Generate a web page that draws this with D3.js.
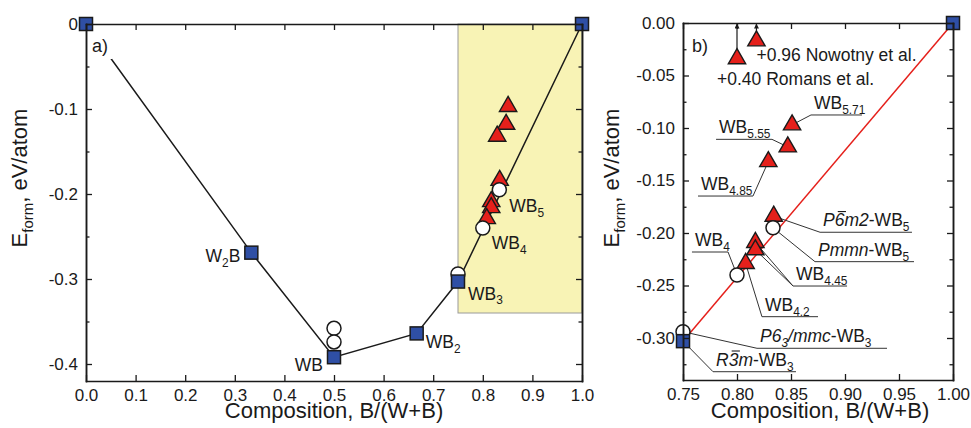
<!DOCTYPE html>
<html>
<head>
  <meta charset="utf-8">
  <title>W-B formation energies</title>
  <script src="https://cdn.jsdelivr.net/npm/d3@7"></script>
  <style>
    body { margin: 0; background: #fff; }
    svg { font-family: "Liberation Sans", Arial, sans-serif; }
  </style>
</head>
<body>
<script>
// convex hull phases (blue squares)
var hullX = [0, 1/3, 0.5, 2/3, 0.75, 1];
var hullE = [0, -0.269, -0.392, -0.364, -0.303, 0];
// other computed structures (open circles)
var circX = [0.5, 0.5, 0.75, 0.8, 5/6];
var circE = [-0.358, -0.374, -0.294, -0.240, -0.195];
// higher borides (red triangles)
var triX = [0.851, 0.847, 0.829, 0.834, 0.817, 0.817, 0.808];
var triE = [-0.097, -0.118, -0.132, -0.184, -0.209, -0.216, -0.229];
// experimental structures, drawn shifted down (panel b only)
var shiftX = [0.800, 0.818];
var shiftE = [-0.034, -0.017];
var shiftNotes = ["+0.40 Romans et al.", "+0.96 Nowotny et al."];

// names: _{..} subscript, *..* italic, ^ overbar on next char
var hullNamesA = ["", "W_{2}B", "WB", "WB_{2}", "WB_{3}", ""];
var circNamesA = ["", "", "", "WB_{4}", "WB_{5}"];
var hullNamesB = ["", "", "", "", "*R^3m*-WB_{3}", ""];
var circNamesB = ["", "", "*P6_{3}/mmc*-WB_{3}", "WB_{4}", "*Pmmn*-WB_{5}"];
var triNamesB = ["WB_{5.71}", "WB_{5.55}", "WB_{4.85}", "*P^6m2*-WB_{5}", "WB_{4.45}", "WB_{4.45}", "WB_{4.2}"];

// ticks
var xTicksA = [0, 0.1, 0.2, 0.3, 0.4, 0.5, 0.6, 0.7, 0.8, 0.9, 1.0];
var yTicksA = [0, -0.1, -0.2, -0.3, -0.4];
var yMinorA = [-0.05, -0.15, -0.25, -0.35];
var xTicksB = [0.75, 0.80, 0.85, 0.90, 0.95, 1.00];
var yTicksB = [0, -0.05, -0.10, -0.15, -0.20, -0.25, -0.30];
var yMinorB = [-0.025, -0.075, -0.125, -0.175, -0.225, -0.275, -0.325];

var width = 971, height = 428;
var ink = '#1a1a1a', blue = '#2f4fa5', red = '#e5201b';

var svg = d3.select('body').append('svg')
  .attr('width', width)
  .attr('height', height);

var defs = svg.append('defs');
defs.append('marker')
  .attr('id', 'arrow')
  .attr('markerUnits', 'userSpaceOnUse')
  .attr('viewBox', '0 0 10 10')
  .attr('refX', 10).attr('refY', 5)
  .attr('markerWidth', 6).attr('markerHeight', 5)
  .attr('orient', 'auto')
  .append('path').attr('d', 'M0,0L10,5L0,10z').attr('fill', ink);

// scales
var xa = d3.scaleLinear().domain([0, 1]).range([86, 582]);
var ya = d3.scaleLinear().domain([0, -0.42]).range([24, 381]);
var xb = d3.scaleLinear().domain([0.75, 1]).range([683, 953]);
var yb = d3.scaleLinear().domain([0, -0.34]).range([23, 380]);

function hyphen(f) {
  return function (v) { return v === 0 && f === null ? '0' : d3.format(f || '.1f')(v).replace('\u2212', '-'); };
}

// little markup parser for chemical labels
function parts(str) {
  var out = [], it = false, i = 0;
  while (i < str.length) {
    var c = str[i];
    if (c === '*') { it = !it; i++; continue; }
    if (c === '_') {
      var j = str.indexOf('}', i);
      out.push({t: str.slice(i + 2, j), it: it, sub: true});
      i = j + 1; continue;
    }
    if (c === '^') { out.push({t: str[i + 1], it: it, bar: true}); i += 2; continue; }
    out.push({t: c, it: it});
    i++;
  }
  return out;
}

function rich(g, str, x, y, size, anchor, transform) {
  var t = g.append('text')
    .attr('x', x).attr('y', y)
    .attr('font-size', size)
    .attr('fill', ink)
    .attr('text-anchor', anchor || 'start');
  if (transform) t.attr('transform', transform);
  var shift = 0, idx = 0, bars = [];
  parts(str).forEach(function (p) {
    var s = t.append('tspan').text(p.t);
    var want = p.sub ? size * 0.28 : 0;
    if (want !== shift) { s.attr('dy', want - shift); shift = want; }
    if (p.sub) s.attr('font-size', size * 0.68);
    if (p.it) s.attr('font-style', 'italic');
    if (p.bar) bars.push(idx);
    idx += p.t.length;
  });
  var node = t.node();
  bars.forEach(function (i) {
    var a = node.getStartPositionOfChar(i), b = node.getEndPositionOfChar(i);
    g.append('line')
      .attr('x1', a.x + 3).attr('x2', b.x + 1.5)
      .attr('y1', y - size * 0.84).attr('y2', y - size * 0.84)
      .attr('stroke', ink).attr('stroke-width', 1.1);
  });
  return t;
}

function frame(x, y, xt, yt, ym, xf, yf) {
  var g = svg.append('g');
  var left = x.range()[0], right = x.range()[1], top = y.range()[0], bottom = y.range()[1];
  var ax = [];
  ax.push(g.append('g').attr('transform', 'translate(0,' + bottom + ')')
    .call(d3.axisBottom(x).tickValues(xt).tickFormat(xf).tickSize(-6).tickSizeOuter(0).tickPadding(8)));
  ax.push(g.append('g').attr('transform', 'translate(0,' + top + ')')
    .call(d3.axisTop(x).tickValues(xt).tickFormat('').tickSize(-6).tickSizeOuter(0)));
  ax.push(g.append('g').attr('transform', 'translate(' + left + ',0)')
    .call(d3.axisLeft(y).tickValues(yt).tickFormat(yf).tickSize(-6).tickSizeOuter(0).tickPadding(8)));
  ax.push(g.append('g').attr('transform', 'translate(' + left + ',0)')
    .call(d3.axisLeft(y).tickValues(ym).tickFormat('').tickSize(-3.5).tickSizeOuter(0)));
  ax.push(g.append('g').attr('transform', 'translate(' + right + ',0)')
    .call(d3.axisRight(y).tickValues(yt).tickFormat('').tickSize(-6).tickSizeOuter(0)));
  ax.push(g.append('g').attr('transform', 'translate(' + right + ',0)')
    .call(d3.axisRight(y).tickValues(ym).tickFormat('').tickSize(-3.5).tickSizeOuter(0)));
  ax.forEach(function (a) {
    a.attr('font-family', null).attr('font-size', 17);
    a.selectAll('.domain').attr('stroke', ink).attr('stroke-width', 1.5).attr('stroke-linecap', 'square');
    a.selectAll('.tick line').attr('stroke', ink).attr('stroke-width', 1.3);
    a.selectAll('.tick text').attr('fill', ink);
  });
  return g;
}

function squares(g, x, y, xs, es) {
  g.selectAll(null).data(xs).enter().append('rect')
    .attr('x', function (d) { return x(d) - 6.5; })
    .attr('y', function (d, i) { return y(es[i]) - 6.5; })
    .attr('width', 13).attr('height', 13)
    .attr('fill', blue).attr('stroke', ink).attr('stroke-width', 1.5);
}
function circles(g, x, y, xs, es) {
  g.selectAll(null).data(xs).enter().append('circle')
    .attr('cx', function (d) { return x(d); })
    .attr('cy', function (d, i) { return y(es[i]); })
    .attr('r', 7)
    .attr('fill', '#fff').attr('stroke', ink).attr('stroke-width', 1.5);
}
var tri = d3.symbol().type(d3.symbolTriangle).size(130);
function triangles(g, x, y, xs, es) {
  g.selectAll(null).data(xs).enter().append('path')
    .attr('d', tri)
    .attr('transform', function (d, i) { return 'translate(' + x(d) + ',' + y(es[i]) + ')'; })
    .attr('fill', red).attr('stroke', ink).attr('stroke-width', 1.4).attr('stroke-linejoin', 'miter');
}

// ---------- panel a ----------
var pa = svg.append('g');
pa.append('rect')
  .attr('x', xa(0.75)).attr('y', ya(0))
  .attr('width', xa(1) - xa(0.75)).attr('height', ya(-0.34) - ya(0))
  .attr('fill', '#f8f3b5').attr('stroke', '#9a9a9a').attr('stroke-width', 1);

pa.append('path')
  .datum(d3.range(hullX.length))
  .attr('d', d3.line().x(function (i) { return xa(hullX[i]); }).y(function (i) { return ya(hullE[i]); }))
  .attr('fill', 'none').attr('stroke', ink).attr('stroke-width', 1.5);

// panel letter sits on a white patch over the tie line
pa.append('rect').attr('x', xa(0) + 1).attr('y', ya(0) + 1).attr('width', 25).attr('height', 34).attr('fill', '#fff');
rich(pa, 'a)', xa(0) + 6, 52, 18);

frame(xa, ya, xTicksA, yTicksA, yMinorA, hyphen('.1f'), hyphen(null));

triangles(pa, xa, ya, triX, triE);
circles(pa, xa, ya, circX, circE);
squares(pa, xa, ya, hullX, hullE);

var offA = {hull: [null, [-11, 9, 'end'], [-11, 14, 'end'], [9, 15], [10, 18], null],
            circ: [null, null, null, [9, 21], [10, 22]]};
hullNamesA.forEach(function (n, i) {
  if (!n) return;
  var o = offA.hull[i];
  rich(pa, n, xa(hullX[i]) + o[0], ya(hullE[i]) + o[1], 17.5, o[2]);
});
circNamesA.forEach(function (n, i) {
  if (!n) return;
  var o = offA.circ[i];
  rich(pa, n, xa(circX[i]) + o[0], ya(circE[i]) + o[1], 17.5, o[2]);
});

rich(svg, 'Composition, B/(W+B)', 334, 418, 22, 'middle');
rich(svg, 'E_{form}, eV/atom', 0, 0, 22, 'middle', 'translate(27,178) rotate(-90)');

// ---------- panel b ----------
var pb = svg.append('g');
var hullB = d3.range(hullX.length).filter(function (i) { return hullX[i] >= 0.75; });
pb.append('path')
  .datum(hullB)
  .attr('d', d3.line().x(function (i) { return xb(hullX[i]); }).y(function (i) { return yb(hullE[i]); }))
  .attr('fill', 'none').attr('stroke', red).attr('stroke-width', 1.5);

frame(xb, yb, xTicksB, yTicksB, yMinorB, hyphen('.2f'), hyphen('.2f'));
rich(pb, 'b)', 692, 52, 18);

// arrows for shifted experimental points
shiftX.forEach(function (d, i) {
  pb.append('line')
    .attr('x1', xb(d)).attr('x2', xb(d))
    .attr('y1', yb(shiftE[i])).attr('y2', yb(0) + 0.5)
    .attr('stroke', ink).attr('stroke-width', 1.2)
    .attr('marker-end', 'url(#arrow)');
});

// labels with underline and leader
var series = {
  hull: {x: hullX, e: hullE, n: hullNamesB},
  circ: {x: circX, e: circE, n: circNamesB},
  tri: {x: triX, e: triE, n: triNamesB}
};
var notesB = [
  {s: 'tri', i: [0], u: [0.8685, 0.9157, -0.0876], end: 0},
  {s: 'tri', i: [1], u: [0.7806, 0.8324, -0.1108], end: 1},
  {s: 'tri', i: [2], u: [0.7639, 0.8148, -0.1648], end: 1},
  {s: 'tri', i: [3], u: [0.8769, 0.9620, -0.1993], end: 0},
  {s: 'tri', i: [4, 5], u: [0.8519, 0.9019, -0.2505], end: 0},
  {s: 'tri', i: [6], u: [0.8231, 0.8750, -0.2797], end: 0},
  {s: 'circ', i: [2], u: [0.8185, 0.9389, -0.3098], end: 0},
  {s: 'circ', i: [3], u: [0.7583, 0.7917, -0.2181], end: 1},
  {s: 'circ', i: [4], u: [0.8722, 0.9639, -0.2273], end: 0},
  {s: 'hull', i: [4], u: [0.7778, 0.8546, -0.3321], end: 0}
];
var leaders = pb.append('g').attr('stroke', '#333').attr('stroke-width', 1).attr('fill', 'none');
notesB.forEach(function (nt) {
  var sr = series[nt.s];
  var ux0 = xb(nt.u[0]), ux1 = xb(nt.u[1]), uy = yb(nt.u[2]);
  leaders.append('line').attr('x1', ux0).attr('x2', ux1).attr('y1', uy).attr('y2', uy);
  nt.i.forEach(function (k) {
    leaders.append('line')
      .attr('x1', nt.end ? ux1 : ux0).attr('y1', uy)
      .attr('x2', xb(sr.x[k])).attr('y2', yb(sr.e[k]));
  });
});

function inB(xs, es) {
  var ix = d3.range(xs.length).filter(function (i) { return xs[i] >= 0.75; });
  return [ix.map(function (i) { return xs[i]; }), ix.map(function (i) { return es[i]; })];
}
var tB = inB(triX, triE), cB = inB(circX, circE), hB = inB(hullX, hullE);
triangles(pb, xb, yb, shiftX, shiftE);
triangles(pb, xb, yb, tB[0], tB[1]);
circles(pb, xb, yb, cB[0], cB[1]);
squares(pb, xb, yb, hB[0], hB[1]);

notesB.forEach(function (nt) {
  var sr = series[nt.s];
  rich(pb, sr.n[nt.i[0]], xb(nt.u[0]) + 3, yb(nt.u[2]) - 6, 17.5);
});

rich(pb, shiftNotes[1], xb(shiftX[1]), yb(shiftE[1]) + 20, 17.5);
rich(pb, shiftNotes[0], xb(shiftX[0]) - 20, yb(shiftE[0]) + 26, 17.5);

rich(svg, 'Composition, B/(W+B)', 820, 418, 22, 'middle');
rich(svg, 'E_{form}, eV/atom', 0, 0, 22, 'middle', 'translate(619,178) rotate(-90)');
</script>
</body>
</html>
